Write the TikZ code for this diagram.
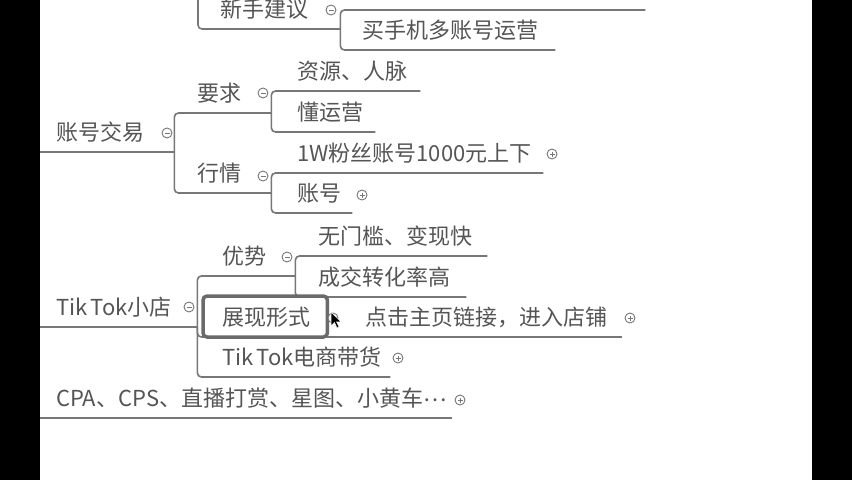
\documentclass[tikz,border=0pt]{standalone}
\usepackage{fontspec}
\newfontfamily\cjk{Noto Sans CJK SC}
\definecolor{linegray}{HTML}{777777}
\definecolor{textgray}{HTML}{555555}
\definecolor{boxgray}{HTML}{6A6A6A}
\tikzset{
    topic/.style={anchor=south west, inner xsep=0pt, inner ysep=11pt,
        text height=15pt, text depth=0pt, align=left, text=textgray,
        font=\cjk\fontsize{22}{26}\selectfont},
    link/.style={draw=linegray, line width=1.6pt, rounded corners=4pt},
    selbox/.style={draw=boxgray, line width=3.5pt, rounded corners=4pt},
    fold/.style={circle, draw=linegray, line width=0.9pt, minimum size=10pt,
        inner sep=0pt, fill=white,
        path picture={\draw[linegray, line width=0.9pt]
            ([xshift=2.5pt]path picture bounding box.west) -- ([xshift=-2.5pt]path picture bounding box.east);}},
    unfold/.style={fold,
        path picture={\draw[linegray, line width=0.9pt]
            ([xshift=2.5pt]path picture bounding box.west) -- ([xshift=-2.5pt]path picture bounding box.east)
            ([yshift=-2.5pt]path picture bounding box.north) -- ([yshift=2.5pt]path picture bounding box.south);}}
}

\begin{document}
\begin{tikzpicture}[x=1pt, y=-1pt]
    \useasboundingbox (0,0) rectangle (852,480);
    \clip (0,0) rectangle (852,480);
    \fill[white] (0,0) rectangle (852,480);

    % 新手建议
    \coordinate (xs-root) at (198,-40);
    \node[topic, text width=142pt] (xsjy) at (198,29) {\hspace*{22pt}新手建议};
    \node[topic, text width=305pt] (xsjy-a) at (340,10) {};
    \node[topic, text width=215pt] (mjs) at (340,50) {\hspace*{22pt}买手机多账号运营};
    \draw[link] (xs-root) |- (xsjy.south east);
    \draw[link] (xsjy.south east) |- (xsjy-a.south east);
    \draw[link] (xsjy.south east) |- (mjs.south east);
    \node[fold] (xsjy-f) at (331,10) {};

    % 账号交易
    \node[topic, text width=174pt] (zhjy) at (0,152) {\hspace*{56pt}账号交易};
    \node[topic, text width=97pt] (yq) at (174,113) {\hspace*{23pt}要求};
    \node[topic, text width=149pt] (zyrm) at (271,91) {\hspace*{26pt}资源、人脉};
    \node[topic, text width=104pt] (dyy) at (271,132) {\hspace*{26pt}懂运营};
    \node[topic, text width=97pt] (hq) at (174,193) {\hspace*{23pt}行情};
    \node[topic, text width=272pt] (fs) at (271,173) {\hspace*{26pt}1W粉丝账号1000元上下};
    \node[topic, text width=81pt] (zh) at (271,213) {\hspace*{26pt}账号};
    \draw[link] (zhjy.south west) -- (zhjy.south east);
    \draw[link] (zhjy.south east) |- (yq.south east);
    \draw[link] (zhjy.south east) |- (hq.south east);
    \draw[link] (yq.south east) |- (zyrm.south east);
    \draw[link] (yq.south east) |- (dyy.south east);
    \draw[link] (hq.south east) |- (fs.south east);
    \draw[link] (hq.south east) |- (zh.south east);
    \node[fold] (zhjy-f) at (167,133) {};
    \node[fold] (yq-f) at (263,93) {};
    \node[fold] (hq-f) at (263,176) {};
    \node[unfold] (fs-f) at (552,154) {};
    \node[unfold] (zh-f) at (362,195) {};

    % Tik Tok小店
    \node[topic, text width=197pt] (tk) at (0,327) {\hspace*{56pt}Tik\hspace{3pt}Tok小店};
    \node[topic, text width=98pt] (ys) at (197,276) {\hspace*{25pt}优势};
    \node[topic, text width=192pt] (wmk) at (295,256) {\hspace*{23pt}无门槛、变现快};
    \node[topic, text width=171pt] (cj) at (295,297) {\hspace*{23pt}成交转化率高};
    \node[topic, text width=130pt] (zxxs) at (197,337) {\hspace*{25pt}展现形式};
    \node[topic, text width=295pt] (djzy) at (327,337) {\hspace*{38pt}点击主页链接，进入店铺};
    \node[topic, text width=193pt] (dshc) at (197,377) {\hspace*{25pt}Tik\hspace{3pt}Tok电商带货};
    \draw[link] (tk.south west) -- (tk.south east);
    \draw[link] (tk.south east) |- (ys.south east);
    \draw[link] (tk.south east) |- (zxxs.south east);
    \draw[link] (tk.south east) |- (dshc.south east);
    \draw[link] (ys.south east) |- (wmk.south east);
    \draw[link] (ys.south east) |- (cj.south east);
    \draw[link] (zxxs.south east) -- (djzy.south east);
    \draw[selbox] ([xshift=6pt]zxxs.south west) rectangle ([yshift=41pt]zxxs.south east);
    \node[fold] (tk-f) at (189,307) {};
    \node[fold] (ys-f) at (287,257) {};
    \node[fold] (zxxs-f) at (333,318) {};
    \node[unfold] (djzy-f) at (630,318) {};
    \node[unfold] (dshc-f) at (398,358) {};

    % CPA
    \node[topic, text width=452pt] (cpa) at (0,418) {\hspace*{56pt}CPA、CPS、直播打赏、星图、小黄车\raisebox{5pt}{…}};
    \draw[link] (cpa.south west) -- (cpa.south east);
    \node[unfold] (cpa-f) at (460,400) {};

    % mouse pointer
    \fill[black, draw=white, line width=0.5pt, shift={(331,312)}]
        (0,0) -- (0,14) -- (3.5,10.5) -- (6,16) -- (8,15) -- (5.5,9.8) -- (10,9.8) -- cycle;

    % screen edges
    \fill[black] (0,0) rectangle (40,480);
    \fill[black] (812,0) rectangle (852,480);
\end{tikzpicture}
\end{document}
